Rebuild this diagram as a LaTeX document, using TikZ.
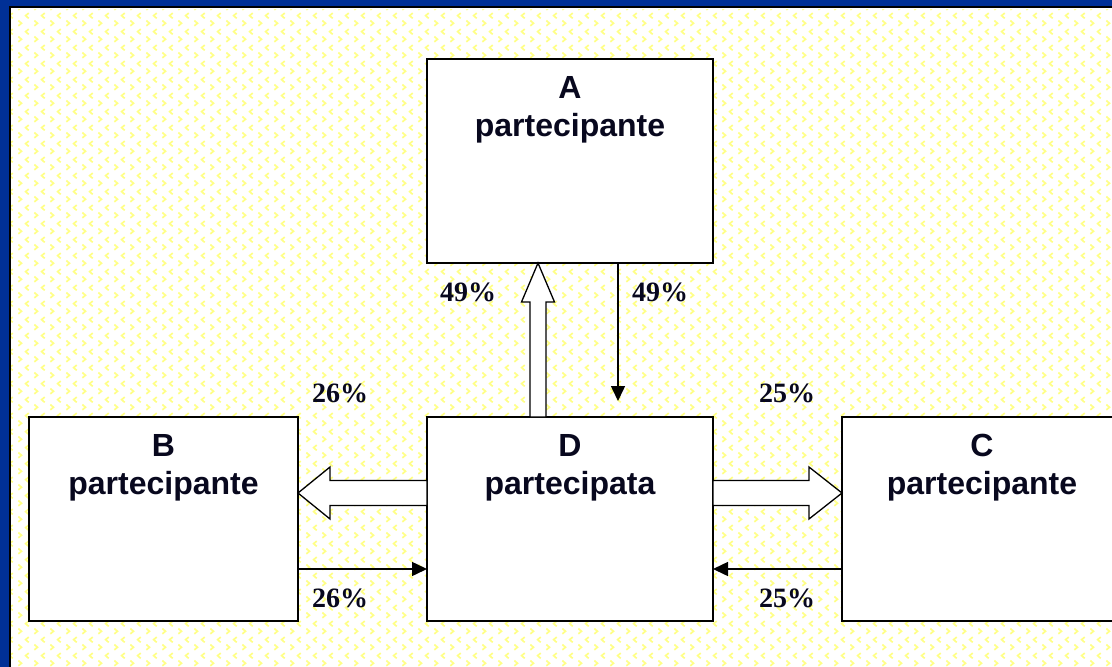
\documentclass[tikz,border=0pt]{standalone}
\usepackage{fontspec}
\setmainfont{Liberation Serif}
\newfontfamily\boxfont{Liberation Sans}
\usetikzlibrary{arrows.meta,calc,patterns.meta}

\definecolor{framblue}{RGB}{0,48,150}
\definecolor{chevyellow}{RGB}{255,255,135}
\definecolor{inkdark}{RGB}{8,8,30}

% pale yellow chevron wallpaper
\tikzdeclarepattern{
  name=chevrons,
  type=colored,
  bounding box={(0pt,0pt) and (16pt,16pt)},
  tile size={(16pt,16pt)},
  code={
    \draw[chevyellow, line width=1.8pt, line join=miter]
      (2.5pt,6.8pt) -- (5.8pt,4pt) -- (2.5pt,1.2pt);
    \draw[chevyellow, line width=1.8pt, line join=miter]
      (13.5pt,14.8pt) -- (10.2pt,12pt) -- (13.5pt,9.2pt);
  }
}

\tikzset{
  box/.style={draw=black, fill=white, line width=2pt, rectangle,
    outer sep=0pt, inner sep=0pt},
  boxtext/.style={font=\boxfont\bfseries\fontsize{32}{38}\selectfont,
    text=inkdark, align=center, inner sep=0pt, anchor=north},
  pct/.style={font=\bfseries\fontsize{28}{30}\selectfont, text=inkdark,
    inner sep=0pt, anchor=base},
  hollow/.style={draw=black, fill=white, line width=1.3pt, line join=miter},
  thin/.style={draw=black, line width=1.5pt,
    -{Triangle[length=15pt,width=14pt]}},
}

\begin{document}
\begin{tikzpicture}[x=1pt,y=-1pt]
\useasboundingbox (0,0) rectangle (1112,667);
\clip (0,0) rectangle (1112,667);

% background and frame
\fill[white] (0,0) rectangle (1112,667);
\fill[pattern=chevrons] (11,9) rectangle (1112,667);
\fill[framblue] (0,0) rectangle (1112,6);
\fill[framblue] (0,0) rectangle (9,667);
\draw[black, line width=2pt] (9,7) -- (1112,7);
\draw[black, line width=2pt] (10,7) -- (10,667);

% boxes (C runs on past the right edge)
\node[box, minimum width=286pt, minimum height=204pt] (A) at (570,161) {};
\node[box, minimum width=286pt, minimum height=204pt] (D) at (570,519) {};
\node[box, minimum width=269pt, minimum height=204pt] (B) at (163.5,519) {};
\node[box, minimum width=320pt, minimum height=204pt] (C) at (1002,519) {};

\node[boxtext] (Atext) at ($(A.north)+(0,17)$) {A\\partecipante};
\node[boxtext] (Dtext) at ($(D.north)+(0,17)$) {D\\partecipata};
\node[boxtext] (Btext) at ($(B.north)+(0,17)$) {B\\partecipante};
\node[boxtext] (Ctext) at ($(C.north)+(-20,17)$) {C\\partecipante};

% reference rows and columns for the connectors
\coordinate (upx) at (538,0);
\coordinate (downx) at (618,0);
\coordinate (downend) at (618,401);
\coordinate (midrow) at (0,493);
\coordinate (lowrow) at (0,569);

% hollow arrows: D holds shares of A, B and C
\draw[hollow]
  ($(D.north -| upx)+(-8,0)$) -- ($(A.south -| upx)+(-8,39)$)
  -- ($(A.south -| upx)+(-16.5,39)$) -- (A.south -| upx)
  -- ($(A.south -| upx)+(16.5,39)$) -- ($(A.south -| upx)+(8,39)$)
  -- ($(D.north -| upx)+(8,0)$) -- cycle;
\draw[hollow]
  ($(D.west |- midrow)+(0,-12.5)$) -- ($(B.east |- midrow)+(32,-12.5)$)
  -- ($(B.east |- midrow)+(32,-26)$) -- (B.east |- midrow)
  -- ($(B.east |- midrow)+(32,26)$) -- ($(B.east |- midrow)+(32,12.5)$)
  -- ($(D.west |- midrow)+(0,12.5)$) -- cycle;
\draw[hollow]
  ($(D.east |- midrow)+(0,-12.5)$) -- ($(C.west |- midrow)+(-33,-12.5)$)
  -- ($(C.west |- midrow)+(-33,-26)$) -- (C.west |- midrow)
  -- ($(C.west |- midrow)+(-33,26)$) -- ($(C.west |- midrow)+(-33,12.5)$)
  -- ($(D.east |- midrow)+(0,12.5)$) -- cycle;

% thin arrows: A, B and C hold shares of D
\draw[thin] (A.south -| downx) -- (downend);
\draw[thin] (B.east |- lowrow) -- (D.west |- lowrow);
\draw[thin] (C.west |- lowrow) -- (D.east |- lowrow);

% percentages
\node[pct] (pA1) at (468,301) {49\%};
\node[pct] (pA2) at (660,301) {49\%};
\node[pct] (pB1) at (340,402) {26\%};
\node[pct] (pC1) at (787,402) {25\%};
\node[pct] (pB2) at (340,607) {26\%};
\node[pct] (pC2) at (787,607) {25\%};
\end{tikzpicture}
\end{document}
